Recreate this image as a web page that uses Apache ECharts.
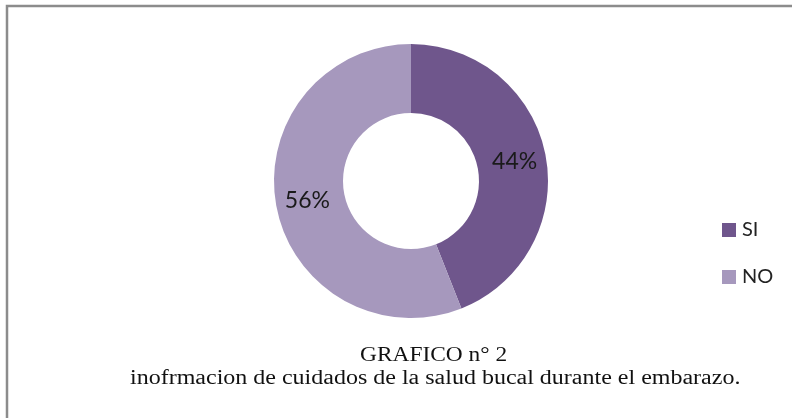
<!DOCTYPE html>
<html><head><meta charset="utf-8">
<script src="https://cdn.jsdelivr.net/npm/echarts@6/dist/echarts.min.js"></script>
<style>html,body{margin:0;padding:0;background:#fff}#c{width:792px;height:418px}</style>
</head><body><div id="c"></div>
<script>
var categories = ['SI', 'NO'];
var values = [44, 56];
var colors = ['#6f568c', '#a698bd'];
var titleLines = ['GRAFICO n° 2', 'inofrmacion de cuidados de la salud bucal durante el embarazo.'];

var chart = echarts.init(document.getElementById('c'), null, {renderer: 'canvas'});
chart.setOption({
  animation: false,
  backgroundColor: '#ffffff',
  color: colors,
  graphic: [
    {type: 'rect', shape: {x: 7, y: 6, width: 1000, height: 1000}, style: {fill: 'none', stroke: '#8c8c8c', lineWidth: 2.5}, z: -1},
    {type: 'text', x: 360, y: 346, scaleX: 1.17, style: {text: titleLines[0], font: '20px "Liberation Serif", serif', fill: '#111'}},
    {type: 'text', x: 130, y: 369, scaleX: 1.2, style: {text: titleLines[1], font: '20px "Liberation Serif", serif', fill: '#111'}}
  ],
  legend: {
    orient: 'vertical',
    left: 722, top: 220,
    padding: 0,
    itemWidth: 14, itemHeight: 14,
    itemGap: 27,
    icon: 'rect',
    textStyle: {fontFamily: 'Lato, "Open Sans", sans-serif', fontSize: 20, color: '#222', padding: [0,0,0,1]},
    data: categories
  },
  series: [{
    type: 'pie',
    center: [411, 181],
    radius: [68, 137],
    startAngle: 90,
    clockwise: true,
    label: {show: true, position: 'inside', formatter: '{d}%', fontFamily: 'Lato, "Open Sans", sans-serif', fontSize: 23, color: '#1a1a1a'},
    labelLine: {show: false},
    emphasis: {disabled: true},
    itemStyle: {borderWidth: 0},
    data: categories.map(function(c, i){ return {name: c, value: values[i]}; })
  }]
});
</script></body></html>
